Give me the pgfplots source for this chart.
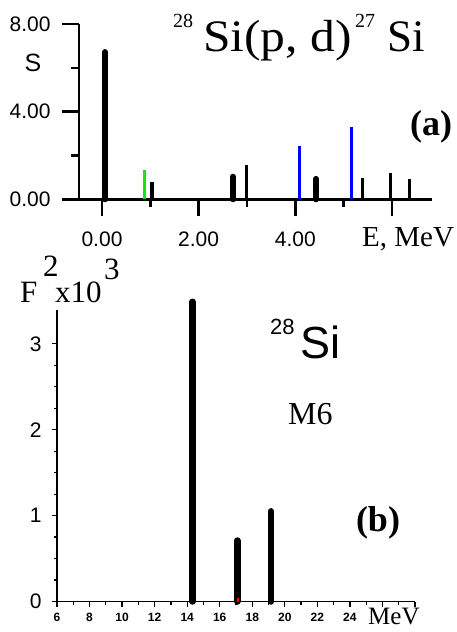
\documentclass[border=0pt]{standalone}
\usepackage{fontspec}
\setmainfont{Liberation Serif}
\setsansfont{Liberation Sans}
\usepackage{pgfplots}
\pgfplotsset{compat=1.18}
\definecolor{mygreen}{RGB}{20,230,20}
\begin{document}
\begin{tikzpicture}[x=1pt,y=1pt]
\useasboundingbox (0,0) rectangle (456,632);
% ---------- panel (a)
\begin{axis}[at={(79pt,432.7pt)}, anchor=south west,
  width=353pt, height=175.3pt, scale only axis, clip=false,
  xmin=-0.476, xmax=6.83, ymin=0, ymax=8,
  axis x line*=bottom, axis y line*=left,
  axis line style={line width=2.5pt},
  xtick={0,2,4,6}, xticklabels={0.00,2.00,4.00,},
  minor xtick={1,3,5},
  ytick={0,4,8}, yticklabels={0.00,4.00,8.00},
  minor ytick={2,6},
  tick align=outside, major tick length=17pt, minor tick length=8pt,
  major tick style={line width=2.5pt,black}, minor tick style={line width=2.5pt,black},
  ticklabel style={font=\fontsize{21}{21}\selectfont\sffamily},
  xticklabel style={yshift=-12pt},
  yticklabel style={xshift=-8pt},
]
\addplot[ycomb, no markers, line width=6pt, line cap=round] coordinates {(0.06,6.72) (2.71,1.03) (4.43,0.93)};
\addplot[ycomb, no markers, line width=3.5pt] coordinates {(1.03,0.80) (2.99,1.58) (5.39,0.99) (5.97,1.18) (6.36,0.91)};
\addplot[ycomb, no markers, line width=3pt, color=mygreen] coordinates {(0.87,1.33)};
\addplot[ycomb, no markers, line width=3pt, color=blue] coordinates {(4.08,2.44) (5.17,3.31)};
\end{axis}
% ---------- panel (b)
\begin{axis}[at={(57pt,30.5pt)}, anchor=south west,
  width=358pt, height=292pt, scale only axis, clip=false,
  xmin=6, xmax=28, ymin=0, ymax=3.4,
  axis x line*=bottom, axis y line*=left,
  axis line style={line width=1.5pt},
  xtick={6,8,...,28}, xticklabels={6,8,10,12,14,16,18,20,22,24,,},
  minor x tick num=1,
  ytick={0,1,2,3}, minor y tick num=3,
  tick align=outside, major tick length=5pt, minor tick length=3pt,
  major tick style={line width=1.2pt,black}, minor tick style={line width=1.2pt,black},
  /pgf/number format/assume math mode=true,
  yticklabel style={font=\fontsize{21}{21}\selectfont\sffamily, xshift=-7pt},
  xticklabel style={font=\fontsize{12}{12}\selectfont\sffamily\bfseries, yshift=-3pt},
]
\addplot[ycomb, no markers, line width=6.5pt, line cap=round] coordinates {(14.32,3.49) (17.08,0.71) (19.15,1.05)};
\addplot[ycomb, no markers, line width=2pt, red] coordinates {(17.15,0.04)};
\end{axis}
% ---------- texts
\node[anchor=base west, inner sep=0, font=\fontsize{20}{20}\selectfont] at (173,604) {28};
\node[anchor=base west, inner sep=0, font=\fontsize{45}{45}\selectfont] at (203,580) {\scalebox{1.1}[1]{Si(p, d)}};
\node[anchor=base west, inner sep=0, font=\fontsize{20}{20}\selectfont] at (355,604) {27};
\node[anchor=base west, inner sep=0, font=\fontsize{45}{45}\selectfont] at (387,580) {Si};
\node[inner sep=0, font=\fontsize{36}{36}\selectfont\bfseries] at (431,505) {(a)};
\node[anchor=base west, inner sep=0, font=\fontsize{29}{29}\selectfont] at (362,385) {E, MeV};
\node[inner sep=0, font=\fontsize{25}{25}\selectfont\sffamily] at (33,569) {S};
\node[anchor=base west, inner sep=0, font=\fontsize{31}{31}\selectfont] at (20,329) {F};
\node[anchor=base west, inner sep=0, font=\fontsize{31}{31}\selectfont] at (43,355) {2};
\node[anchor=base west, inner sep=0, font=\fontsize{31}{31}\selectfont] at (55,329) {x10};
\node[anchor=base west, inner sep=0, font=\fontsize{31}{31}\selectfont] at (104,352) {3};
\node[anchor=base west, inner sep=0, font=\fontsize{22}{22}\selectfont\sffamily] at (270,297) {28};
\node[anchor=base west, inner sep=0, font=\fontsize{45}{45}\selectfont\sffamily] at (300,273) {Si};
\node[anchor=base west, inner sep=0, font=\fontsize{32}{32}\selectfont] at (288,207) {M6};
\node[inner sep=0, font=\fontsize{36}{36}\selectfont\bfseries] at (378,109) {(b)};
\node[anchor=base west, inner sep=0, font=\fontsize{25}{25}\selectfont] at (368,7) {MeV};
\end{tikzpicture}
\end{document}
